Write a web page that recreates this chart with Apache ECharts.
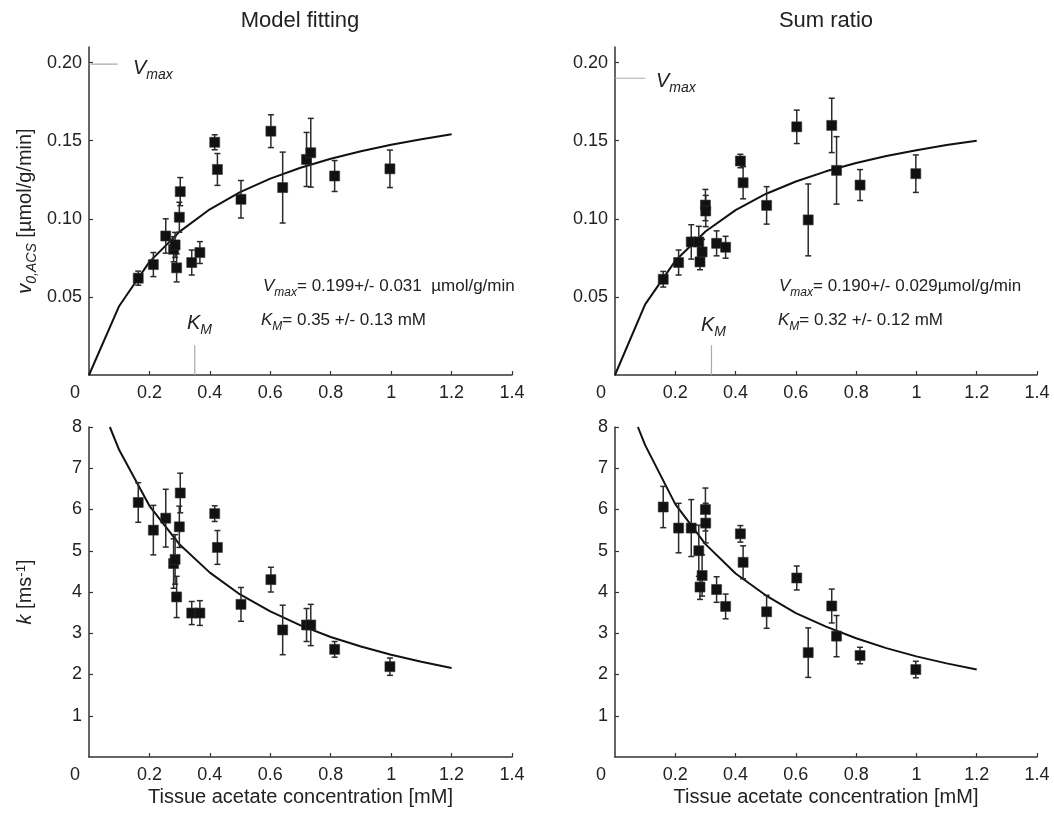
<!DOCTYPE html>
<html><head><meta charset="utf-8">
<script src="https://cdn.jsdelivr.net/npm/echarts@6/dist/echarts.min.js"></script>
<style>html,body{margin:0;padding:0;background:#fff}#c{width:1054px;height:816px}</style>
</head><body><div id="c"></div>
<script>
// ---------- data ----------
const panelTitles = ['Model fitting', 'Sum ratio'];
const xTickLabels = [0.2, 0.4, 0.6, 0.8, 1, 1.2, 1.4];
const vTickLabels = [0.05, 0.10, 0.15, 0.20];
const kTickLabels = [1, 2, 3, 4, 5, 6, 7, 8];

// Model fitting
const mfX    = [0.163, 0.213, 0.254, 0.280, 0.285, 0.290, 0.299, 0.302, 0.340, 0.367, 0.416, 0.425, 0.503, 0.602, 0.641, 0.720, 0.734, 0.813, 0.996];
const mfV    = [0.0620, 0.0707, 0.0890, 0.0805, 0.0833, 0.0686, 0.1010, 0.1174, 0.0720, 0.0784, 0.1490, 0.1316, 0.1125, 0.1561, 0.1200, 0.1380, 0.1423, 0.1274, 0.1320];
const mfVErr = [0.0045, 0.0077, 0.0110, 0.0080, 0.0080, 0.0090, 0.0096, 0.0090, 0.0080, 0.0070, 0.0048, 0.0102, 0.0120, 0.0105, 0.0227, 0.0173, 0.0220, 0.0099, 0.0120];
const mfK    = [6.17, 5.50, 5.79, 4.69, 4.79, 3.88, 5.58, 6.40, 3.49, 3.49, 5.90, 5.08, 3.70, 4.30, 3.08, 3.20, 3.20, 2.61, 2.19];
const mfKErr = [0.48, 0.60, 0.70, 0.60, 0.60, 0.50, 0.50, 0.48, 0.28, 0.30, 0.19, 0.41, 0.41, 0.30, 0.60, 0.40, 0.50, 0.19, 0.21];

// Sum ratio
const srX    = [0.160, 0.211, 0.253, 0.278, 0.282, 0.289, 0.300, 0.301, 0.337, 0.367, 0.416, 0.425, 0.503, 0.603, 0.641, 0.719, 0.735, 0.813, 0.998];
const srV    = [0.0613, 0.0720, 0.0852, 0.0852, 0.0724, 0.0788, 0.1088, 0.1050, 0.0843, 0.0818, 0.1370, 0.1231, 0.1086, 0.1589, 0.0993, 0.1598, 0.1310, 0.1216, 0.1289];
const srVErr = [0.0050, 0.0080, 0.0110, 0.0100, 0.0050, 0.0080, 0.0100, 0.0100, 0.0080, 0.0070, 0.0043, 0.0103, 0.0120, 0.0107, 0.0230, 0.0174, 0.0216, 0.0099, 0.0120];
const srK    = [6.06, 5.55, 5.55, 5.00, 4.12, 4.40, 6.00, 5.67, 4.06, 3.65, 5.41, 4.72, 3.52, 4.34, 2.53, 3.66, 2.93, 2.46, 2.12];
const srKErr = [0.50, 0.60, 0.69, 0.62, 0.30, 0.50, 0.52, 0.48, 0.31, 0.30, 0.20, 0.40, 0.40, 0.29, 0.60, 0.41, 0.50, 0.20, 0.20];

// fitted curves
const fitX     = [0, 0.1, 0.2, 0.3, 0.4, 0.5, 0.6, 0.7, 0.8, 0.9, 1.0, 1.1, 1.2];
const mfVFit   = [0, 0.0442, 0.0724, 0.0918, 0.1061, 0.1171, 0.1257, 0.1327, 0.1384, 0.1433, 0.1474, 0.1510, 0.1541];
const srVFit   = [0, 0.0452, 0.0731, 0.0919, 0.1056, 0.1159, 0.1239, 0.1304, 0.1357, 0.1402, 0.1439, 0.1472, 0.1500];
const mfKFitX  = [0.069, 0.1, 0.2, 0.3, 0.4, 0.5, 0.6, 0.7, 0.8, 0.9, 1.0, 1.1, 1.2];
const mfKFit   = [8.00, 7.44, 6.09, 5.15, 4.47, 3.94, 3.53, 3.19, 2.91, 2.68, 2.48, 2.31, 2.16];
const srKFitX  = [0.076, 0.1, 0.2, 0.3, 0.4, 0.5, 0.6, 0.7, 0.8, 0.9, 1.0, 1.1, 1.2];
const srKFit   = [8.00, 7.56, 6.13, 5.16, 4.45, 3.92, 3.49, 3.16, 2.88, 2.64, 2.44, 2.27, 2.12];

const vmaxFit = [0.199, 0.190];
const kmFit   = [0.35, 0.32];
const vmaxText = ['= 0.199+/- 0.031  µmol/g/min', '= 0.190+/- 0.029µmol/g/min'];
const kmText   = ['= 0.35 +/- 0.13 mM', '= 0.32 +/- 0.12 mM'];

// ---------- styling ----------
const FONT = '"Liberation Sans", Arial, Helvetica, sans-serif';
const TXT = '#222';
const AX = '#333';
const GRAY = '#aaaaaa';

const grids = [
  {left: 89,  top: 47,  width: 423, height: 328},
  {left: 615, top: 47,  width: 422, height: 328},
  {left: 89,  top: 427, width: 423, height: 330},
  {left: 615, top: 427, width: 422, height: 330}
];

const richBase = {
  n:  {fontFamily: FONT, fontSize: 20, color: TXT, lineHeight: 22, verticalAlign: 'top'},
  i:  {fontFamily: FONT, fontSize: 20, fontStyle: 'italic', color: TXT, lineHeight: 22, verticalAlign: 'top'},
  s:  {fontFamily: FONT, fontSize: 14, fontStyle: 'italic', color: TXT, lineHeight: 14, verticalAlign: 'top', padding: [10, 0, 0, 0]},
  p:  {fontFamily: FONT, fontSize: 13, color: TXT, lineHeight: 13, verticalAlign: 'top', padding: [0, 0, 0, 0]}
};
const richAnn = {
  n:  {fontFamily: FONT, fontSize: 17, color: TXT, lineHeight: 19, verticalAlign: 'top'},
  i:  {fontFamily: FONT, fontSize: 17, fontStyle: 'italic', color: TXT, lineHeight: 19, verticalAlign: 'top'},
  s:  {fontFamily: FONT, fontSize: 12, fontStyle: 'italic', color: TXT, lineHeight: 12, verticalAlign: 'top', padding: [9, 0, 0, 0]}
};

function xAxis(gi, withName) {
  return {
    type: 'value', gridIndex: gi, min: 0, max: 1.4, interval: 0.2,
    axisLine: {show: true, onZero: false, lineStyle: {color: AX, width: 1.5}},
    axisTick: {show: true, inside: true, length: 4, customValues: xTickLabels, lineStyle: {color: AX, width: 1.2}},
    axisLabel: {customValues: xTickLabels, fontFamily: FONT, fontSize: 18, color: TXT, margin: 9,
      formatter: v => (Math.abs(v) < 1e-9 ? '' : String(+v.toFixed(1)))},
    splitLine: {show: false},
    name: withName ? 'Tissue acetate concentration [mM]' : '',
    nameLocation: 'middle', nameGap: 30,
    nameTextStyle: {fontFamily: FONT, fontSize: 20, color: TXT}
  };
}
function yAxis(gi, max, ticks, dec, name) {
  return {
    type: 'value', gridIndex: gi, min: 0, max: max,
    axisLine: {show: true, onZero: false, lineStyle: {color: AX, width: 1.5}},
    axisTick: {show: true, inside: true, length: 4, customValues: ticks, lineStyle: {color: AX, width: 1.2}},
    axisLabel: {customValues: ticks, fontFamily: FONT, fontSize: 18, color: TXT, margin: 7,
      formatter: v => v.toFixed(dec)},
    splitLine: {show: false},
    name: name || '', nameLocation: 'middle', nameGap: 52,
    nameTextStyle: {rich: richBase, fontFamily: FONT, fontSize: 20, color: TXT}
  };
}

function pts(xs, ys) { return xs.map((x, i) => [x, ys[i]]); }

function errSeries(gi, xs, ys, es) {
  return {
    type: 'custom', xAxisIndex: gi, yAxisIndex: gi, silent: true, z: 2,
    data: xs.map((x, i) => [x, ys[i] - es[i], ys[i] + es[i]]),
    encode: {x: 0, y: [1, 2]},
    renderItem(params, api) {
      const x = api.value(0);
      const lo = api.coord([x, api.value(1)]);
      const hi = api.coord([x, api.value(2)]);
      const w = 3;
      const st = {stroke: '#2a2a2a', lineWidth: 1.5};
      return {type: 'group', children: [
        {type: 'line', shape: {x1: lo[0], y1: lo[1], x2: hi[0], y2: hi[1]}, style: st},
        {type: 'line', shape: {x1: lo[0] - w, y1: lo[1], x2: lo[0] + w, y2: lo[1]}, style: st},
        {type: 'line', shape: {x1: hi[0] - w, y1: hi[1], x2: hi[0] + w, y2: hi[1]}, style: st}
      ]};
    }
  };
}
function scatterSeries(gi, xs, ys) {
  return {type: 'scatter', xAxisIndex: gi, yAxisIndex: gi, data: pts(xs, ys), symbol: 'rect', symbolSize: 10,
    itemStyle: {color: '#111', opacity: 1, borderColor: '#333', borderWidth: 0.6}, z: 3, silent: true};
}
function curveSeries(gi, xs, ys) {
  return {type: 'line', xAxisIndex: gi, yAxisIndex: gi, data: pts(xs, ys), showSymbol: false, symbol: 'none',
    lineStyle: {color: '#111', width: 2}, z: 1, silent: true, clip: true};
}
function grayLine(gi, data) {
  return {type: 'line', xAxisIndex: gi, yAxisIndex: gi, data: data, symbol: 'none',
    lineStyle: {color: GRAY, width: 1.2}, z: 1, silent: true};
}

const series = [
  grayLine(0, [[0, vmaxFit[0]], [0.095, vmaxFit[0]]]),
  grayLine(0, [[kmFit[0], 0], [kmFit[0], 0.019]]),
  grayLine(1, [[0, vmaxFit[1]], [0.10, vmaxFit[1]]]),
  grayLine(1, [[kmFit[1], 0], [kmFit[1], 0.019]]),
  curveSeries(0, fitX, mfVFit),
  curveSeries(1, fitX, srVFit),
  curveSeries(2, mfKFitX, mfKFit),
  curveSeries(3, srKFitX, srKFit),
  errSeries(0, mfX, mfV, mfVErr),
  errSeries(1, srX, srV, srVErr),
  errSeries(2, mfX, mfK, mfKErr),
  errSeries(3, srX, srK, srKErr),
  scatterSeries(0, mfX, mfV),
  scatterSeries(1, srX, srV),
  scatterSeries(2, mfX, mfK),
  scatterSeries(3, srX, srK)
];

function txt(x, y, text, rich, align, size) {
  return {type: 'text', x: x, y: y, silent: true,
    style: {text: text, rich: rich, align: align || 'left', verticalAlign: 'middle',
      font: (size || 18) + 'px ' + FONT, fill: TXT}};
}

const graphic = [
  txt(300, 21, panelTitles[0], null, 'center', 22),
  txt(826, 21, panelTitles[1], null, 'center', 22),
  txt(75, 393, '0', null, 'center', 18),
  txt(601, 393, '0', null, 'center', 18),
  txt(75, 775, '0', null, 'center', 18),
  txt(601, 775, '0', null, 'center', 18),
  txt(133, 69, '{i|V}{s|max}', richBase),
  txt(656, 82, '{i|V}{s|max}', richBase),
  txt(187, 324, '{i|K}{s|M}', richBase),
  txt(701, 326, '{i|K}{s|M}', richBase),
  txt(263, 287, '{i|V}{s|max}{n|' + vmaxText[0] + '}', richAnn),
  txt(261, 321, '{i|K}{s|M}{n|' + kmText[0] + '}', richAnn),
  txt(779, 287, '{i|V}{s|max}{n|' + vmaxText[1] + '}', richAnn),
  txt(778, 321, '{i|K}{s|M}{n|' + kmText[1] + '}', richAnn)
];

const option = {
  animation: false,
  backgroundColor: '#fff',
  grid: grids.map(g => Object.assign({containLabel: false}, g)),
  xAxis: [xAxis(0, false), xAxis(1, false), xAxis(2, true), xAxis(3, true)],
  yAxis: [
    yAxis(0, 0.21, vTickLabels, 2, '{i|v}{s|0,ACS}{n| [µmol/g/min]}'),
    yAxis(1, 0.21, vTickLabels, 2, ''),
    yAxis(2, 8, kTickLabels, 0, '{i|k}{n| [ms}{p|-1}{n|]}'),
    yAxis(3, 8, kTickLabels, 0, '')
  ],
  series: series,
  graphic: graphic
};

const chart = echarts.init(document.getElementById('c'), null, {renderer: 'canvas'});
chart.setOption(option);
</script>
</body></html>
